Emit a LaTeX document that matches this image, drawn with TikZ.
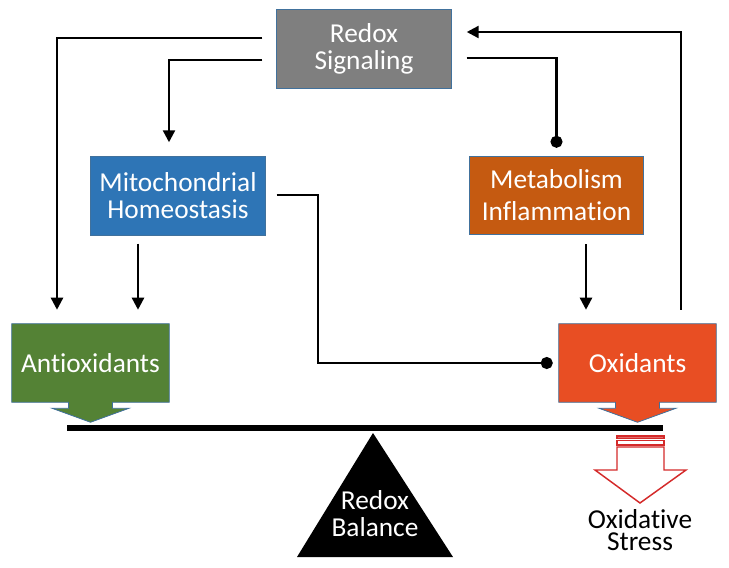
\documentclass[tikz,border=0pt]{standalone}
\usepackage{fontspec}
\setmainfont[Ligatures=NoCommon]{Carlito}
\usetikzlibrary{arrows.meta,calc,backgrounds}
\definecolor{sigGray}{HTML}{7F7F7F}
\definecolor{mitoBlue}{HTML}{2E75B6}
\definecolor{metaOrange}{HTML}{C55A11}
\definecolor{antiGreen}{HTML}{548235}
\definecolor{oxiRed}{HTML}{E84E23}
\definecolor{edgeBlue}{HTML}{41719C}
\definecolor{stressRed}{HTML}{D42A2A}

\begin{document}
\begin{tikzpicture}[x=0.75pt,y=-0.75pt,
    box/.style={draw=edgeBlue,line width=0.6pt,text=white,align=center,
        minimum width=131pt,minimum height=59pt,inner sep=0pt,
        font=\fontsize{20.5}{20.25}\selectfont},
    callout/.style={text=white,minimum width=117.75pt,minimum height=58.5pt,
        inner sep=0pt,font=\fontsize{20.5}{20.25}\selectfont},
    conn/.style={line width=1.8pt},
    tip/.style={-{Triangle[length=9pt,width=9pt]}},
    dot/.style={-{Circle[length=9pt]}}]
        \useasboundingbox (0,0) rectangle (729,568);
        \node[box,fill=sigGray] (sig) at (364,49) {Redox\\Signaling};
        \node[box,fill=mitoBlue] (mito) at (178,196) {Mitochondrial\\Homeostasis};
        \node[box,fill=metaOrange,font=\fontsize{20.5}{24}\selectfont] (meta) at (556.5,195.5) {Metabolism\\Inflammation};
        \node[callout] (anti) at (90.5,363) {Antioxidants};
        \node[callout] (oxi) at (637.5,363) {Oxidants};
        \begin{scope}[on background layer]
        \draw[fill=antiGreen,draw=edgeBlue,line width=0.6pt] (anti.north west) -- (anti.north east) -- (anti.south east)
            -- ($(anti.south)+(22,0)$) -- ($(anti.south)+(22,6)$) -- ($(anti.south)+(38.5,6)$) -- ($(anti.south)+(0,20)$)
            -- ($(anti.south)+(-38.5,6)$) -- ($(anti.south)+(-22,6)$) -- ($(anti.south)+(-22,0)$) -- (anti.south west) -- cycle;
        \draw[fill=oxiRed,draw=edgeBlue,line width=0.6pt] (oxi.north west) -- (oxi.north east) -- (oxi.south east)
            -- ($(oxi.south)+(22,0)$) -- ($(oxi.south)+(22,6)$) -- ($(oxi.south)+(38.5,6)$) -- ($(oxi.south)+(0,20)$)
            -- ($(oxi.south)+(-38.5,6)$) -- ($(oxi.south)+(-22,6)$) -- ($(oxi.south)+(-22,0)$) -- (oxi.south west) -- cycle;
        \end{scope}
        \draw[line width=4.5pt] (67,428) -- (663,428);
        \fill (373,433) -- (453,557) -- (297,557) -- cycle;
        \node[text=white,align=center,inner sep=0pt,font=\fontsize{20.5}{20.25}\selectfont] (bal) at (375,514) {Redox\\Balance};
        \fill[stressRed!70,draw=stressRed,line width=0.8pt] (617,436) rectangle (664,438.5);
        \draw[stressRed,line width=1.1pt] (617,440.5) rectangle (664,445);
        \draw[stressRed,fill=white,line width=1.1pt] (617,447) -- (617,470) -- (595,470) -- (640,503) -- (686,470) -- (664,470) -- (664,447) -- cycle;
        \node[align=center,inner sep=0pt,font=\fontsize{20.5}{16.5}\selectfont] (stress) at (640,530) {Oxidative\\Stress};
        \draw[conn,tip] ($(sig.west)+(-14,-11)$) -| ($(anti.north)+(-33.5,-14)$);
        \draw[conn,tip] ($(sig.west)+(-14,11)$) -| ($(mito.north)+(-9,-14)$);
        \draw[conn,dot] ($(sig.east)+(15,9)$) -| ($(meta.north)+(0,-8)$);
        \draw[conn,tip] ($(oxi.north)+(43.5,-14)$) |- ($(sig.east)+(15,-17)$);
        \draw[conn,tip] ($(mito.south)+(-40,8)$) -- ($(anti.north)+(47.5,-14)$);
        \draw[conn,tip] ($(meta.south)+(29.5,9)$) -- ($(oxi.north)+(-51.5,-14)$);
        \draw[conn,dot] ($(mito.east)+(11,-1)$) -- ++(41,0) |- ($(oxi.west)+(-6,0)$);
    \end{tikzpicture}
\end{document}
